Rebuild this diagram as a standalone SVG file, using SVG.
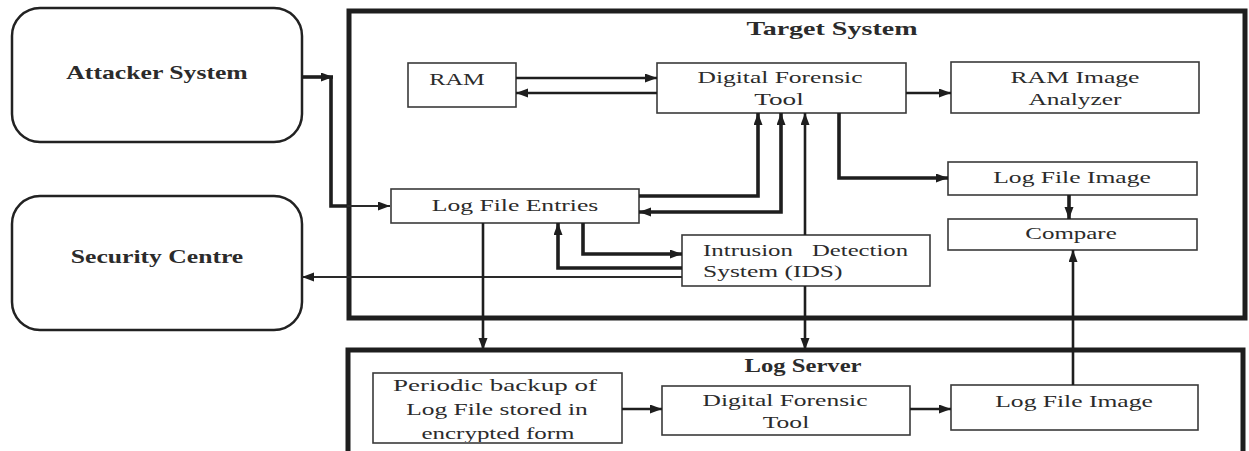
<svg xmlns="http://www.w3.org/2000/svg" width="1249" height="451" viewBox="0 0 1249 451">
<style>
.bg{fill:#ffffff}
.frame{fill:none;stroke:#1e1e1e;stroke-width:5}
.rbox{fill:#ffffff;stroke:#222222;stroke-width:2.5}
.box{fill:#ffffff;stroke:#3a3a3a;stroke-width:1.6}
.t{font-family:"Liberation Serif","Times New Roman",serif;font-size:16.5px;fill:#2b2b2b}
.tb{font-family:"Liberation Serif","Times New Roman",serif;font-size:18px;font-weight:bold;fill:#2b2b2b}
.m{text-anchor:middle}
.c{fill:none;stroke:#1e1e1e;stroke-width:2.6}
.ck{fill:none;stroke:#1e1e1e;stroke-width:3.6}
.cn{fill:none;stroke:#2a2a2a;stroke-width:2}
</style>
<defs>
<marker id="ah" markerUnits="userSpaceOnUse" markerWidth="13" markerHeight="10" refX="12" refY="4.5" orient="auto-start-reverse">
<path d="M0,0 L12,4.5 L0,9 z" fill="#1e1e1e"/>
</marker>
<clipPath id="pclip"><rect x="373" y="373" width="249" height="69"/></clipPath>
</defs>
<rect class="bg" x="0" y="0" width="1249" height="451"/>

<g id="target-system">
<rect class="frame" x="349" y="11" width="896" height="307"/>
<text class="tb m" font-size="19" transform="translate(832,35) scale(1.5,1)" textLength="114" lengthAdjust="spacingAndGlyphs">Target System</text>
</g>

<g id="log-server">
<path class="frame" d="M348,456 L348,350 L1243,350 L1243,456"/>
<text class="tb m" transform="translate(803,372) scale(1.5,1)" textLength="78" lengthAdjust="spacingAndGlyphs">Log Server</text>
</g>

<g id="attacker-system">
<rect class="rbox" x="12" y="8" width="290" height="134" rx="28" ry="28"/>
<text class="tb m" font-size="17" transform="translate(157,79) scale(1.5,1)" textLength="121" lengthAdjust="spacingAndGlyphs">Attacker System</text>
</g>

<g id="security-centre">
<rect class="rbox" x="12" y="196" width="290" height="134" rx="28" ry="28"/>
<text class="tb m" font-size="17" transform="translate(157,263) scale(1.5,1)" textLength="115" lengthAdjust="spacingAndGlyphs">Security Centre</text>
</g>

<g id="ram">
<rect class="box" x="408" y="63" width="108" height="44"/>
<text class="t m" transform="translate(457,85) scale(1.5,1)" textLength="37" lengthAdjust="spacingAndGlyphs">RAM</text>
</g>

<g id="dft-top">
<rect class="box" x="657" y="63" width="249" height="50"/>
<text class="t m" transform="translate(780,83) scale(1.5,1)" textLength="110" lengthAdjust="spacingAndGlyphs">Digital Forensic</text>
<text class="t m" transform="translate(779,105) scale(1.5,1)" textLength="33" lengthAdjust="spacingAndGlyphs">Tool</text>
</g>

<g id="ram-image-analyzer">
<rect class="box" x="951" y="62" width="248" height="51"/>
<text class="t m" transform="translate(1075,83) scale(1.5,1)" textLength="86" lengthAdjust="spacingAndGlyphs">RAM Image</text>
<text class="t m" transform="translate(1075,105) scale(1.5,1)" textLength="62" lengthAdjust="spacingAndGlyphs">Analyzer</text>
</g>

<g id="log-file-image-top">
<rect class="box" x="948" y="162" width="249" height="33"/>
<text class="t m" transform="translate(1072,183) scale(1.5,1)" textLength="105" lengthAdjust="spacingAndGlyphs">Log File Image</text>
</g>

<g id="compare">
<rect class="box" x="948" y="219" width="249" height="31"/>
<text class="t m" transform="translate(1071,239) scale(1.5,1)" textLength="61" lengthAdjust="spacingAndGlyphs">Compare</text>
</g>

<g id="log-file-entries">
<rect class="box" x="391" y="189" width="248" height="34"/>
<text class="t m" transform="translate(515,211) scale(1.5,1)" textLength="111" lengthAdjust="spacingAndGlyphs">Log File Entries</text>
</g>

<g id="ids">
<rect class="box" x="682" y="235" width="248" height="51"/>
<text class="t" transform="translate(703,256) scale(1.5,1)" textLength="60" lengthAdjust="spacingAndGlyphs">Intrusion</text>
<text class="t" transform="translate(812,256) scale(1.5,1)" textLength="64" lengthAdjust="spacingAndGlyphs">Detection</text>
<text class="t" transform="translate(703,277) scale(1.5,1)" textLength="93" lengthAdjust="spacingAndGlyphs">System (IDS)</text>
</g>

<g id="periodic-backup">
<rect class="box" x="373" y="373" width="249" height="70"/>
<g clip-path="url(#pclip)">
<text class="t m" transform="translate(495,391) scale(1.5,1)" textLength="136" lengthAdjust="spacingAndGlyphs">Periodic backup of</text>
<text class="t m" transform="translate(497,415) scale(1.5,1)" textLength="121" lengthAdjust="spacingAndGlyphs">Log File stored in</text>
<text class="t m" transform="translate(498,439) scale(1.5,1)" textLength="102" lengthAdjust="spacingAndGlyphs">encrypted form</text>
</g>
</g>

<g id="dft-bottom">
<rect class="box" x="662" y="386" width="248" height="49"/>
<text class="t m" transform="translate(785,406) scale(1.5,1)" textLength="110" lengthAdjust="spacingAndGlyphs">Digital Forensic</text>
<text class="t m" transform="translate(786,428) scale(1.5,1)" textLength="31" lengthAdjust="spacingAndGlyphs">Tool</text>
</g>

<g id="log-file-image-bottom">
<rect class="box" x="951" y="385" width="247" height="45"/>
<text class="t m" transform="translate(1074,407) scale(1.5,1)" textLength="105" lengthAdjust="spacingAndGlyphs">Log File Image</text>
</g>

<g id="connectors">
<path class="ck" d="M302,77 H333" marker-end="url(#ah)"/>
<path class="ck" d="M331,77 V206 H347"/>
<path class="cn" d="M347,206 H390" marker-end="url(#ah)"/>
<path class="c" d="M516,78 H657" marker-end="url(#ah)"/>
<path class="c" d="M657,93 H516" marker-end="url(#ah)"/>
<path class="c" d="M906,93 H951" marker-end="url(#ah)"/>
<path class="ck" d="M839,113 V178 H948" marker-end="url(#ah)"/>
<path class="ck" d="M1069,195 V219" marker-end="url(#ah)"/>
<path class="c" d="M1073,385 V250" marker-end="url(#ah)"/>
<path class="ck" d="M639,196 H758 V113" marker-end="url(#ah)"/>
<path class="ck" d="M639,212 H781 V113" marker-start="url(#ah)" marker-end="url(#ah)"/>
<path class="c" d="M805,235 V113" marker-end="url(#ah)"/>
<path class="c" d="M805,286 V350" marker-end="url(#ah)"/>
<path class="ck" d="M583,223 V254 H682" marker-end="url(#ah)"/>
<path class="ck" d="M682,268 H558 V223" marker-end="url(#ah)"/>
<path class="cn" d="M682,277 H302" marker-end="url(#ah)"/>
<path class="c" d="M483,223 V350" marker-end="url(#ah)"/>
<path class="c" d="M622,409 H662" marker-end="url(#ah)"/>
<path class="c" d="M910,409 H951" marker-end="url(#ah)"/>
</g>
</svg>
